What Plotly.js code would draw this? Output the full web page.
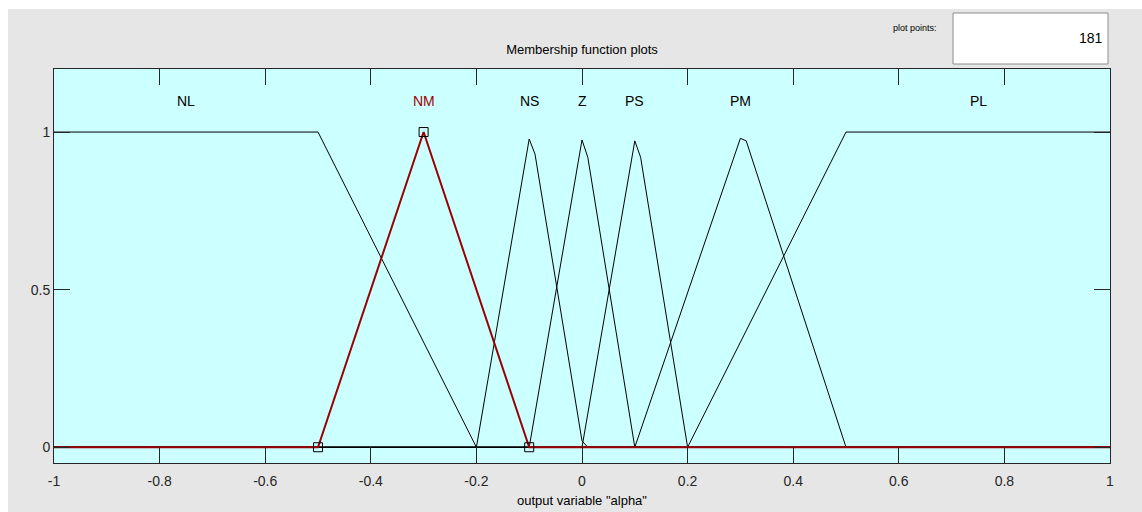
<!DOCTYPE html>
<html>
<head>
<meta charset="utf-8">
<script src="https://cdn.plot.ly/plotly-3.0.1.min.js"></script>
<style>
html,body{margin:0;padding:0;background:#fff;}
#chart{width:1142px;height:512px;}
</style>
</head>
<body>
<div id="chart"></div>
<script>
// ---- data ----
const mfNames = ['NL','NM','NS','Z','PS','PM','PL'];
const mfLabelX = [-0.75, -0.3, -0.1, 0, 0.1, 0.3, 0.75];
const mfLabelY = 1.1;

const NL_x = [-1, -0.5, -0.2, 1];
const NL_y = [1, 1, 0, 0];
const NM_x = [-1, -0.5, -0.3, -0.1, 1];
const NM_y = [0, 0, 1, 0, 0];
const NS_x = [-1, -0.2, -0.1, -0.089, 0, 0.011, 1];
const NS_y = [0, 0, 0.978, 0.93, 0.02, 0, 0];
const Z_x  = [-1, -0.1, 0, 0.011, 0.1, 1];
const Z_y  = [0, 0, 0.975, 0.92, 0, 0];
const PS_x = [-1, 0, 0.1, 0.111, 0.2, 1];
const PS_y = [0, 0, 0.972, 0.92, 0, 0];
const PM_x = [-1, 0.1, 0.3, 0.311, 0.5, 1];
const PM_y = [0, 0, 0.98, 0.972, 0, 0];
const PL_x = [-1, 0.2, 0.5, 1];
const PL_y = [0, 0, 1, 1];

const NM_params = [-0.5, -0.3, -0.1];
const NM_paramY = [0, 1, 0];

const xTicks = [-1, -0.8, -0.6, -0.4, -0.2, 0, 0.2, 0.4, 0.6, 0.8, 1];
const xTickText = ['-1','-0.8','-0.6','-0.4','-0.2','0','0.2','0.4','0.6','0.8','1'];
const yTicks = [0, 0.5, 1];
const yTickText = ['0','0.5','1'];

const plotPoints = '181';

// ---- chart ----
const FONT = 'Liberation Sans Narrow, Arial Narrow, Liberation Sans, Arial, sans-serif';
const W = 1142, H = 512;
const L = 54, R = 1110, T = 69, B = 463;
const px2x = p => (p - L) / (R - L);
const py2y = p => (B - p) / (B - T);

const black = '#000000';
const selRed = '#990000';

function mfTrace(x, y, name) {
  return {x: x, y: y, name: name, mode: 'lines', type: 'scatter',
          line: {color: black, width: 1}, hoverinfo: 'skip'};
}

const traces = [
  mfTrace(NL_x, NL_y, 'NL'),
  mfTrace(NS_x, NS_y, 'NS'),
  mfTrace(Z_x, Z_y, 'Z'),
  mfTrace(PS_x, PS_y, 'PS'),
  mfTrace(PM_x, PM_y, 'PM'),
  mfTrace(PL_x, PL_y, 'PL'),
  {x: NM_x, y: NM_y, name: 'NM', mode: 'lines', type: 'scatter',
   line: {color: selRed, width: 2}, hoverinfo: 'skip'},
  {x: NM_params, y: NM_paramY, mode: 'markers', type: 'scatter',
   marker: {symbol: 'square-open', size: 9, color: black, line: {width: 1, color: black}},
   hoverinfo: 'skip'}
];

const annotations = mfNames.map((n, i) => ({
  x: mfLabelX[i], y: mfLabelY, xref: 'x', yref: 'y', text: n, showarrow: false,
  font: {family: FONT, size: 14, color: n === 'NM' ? '#a00000' : '#000000'},
  xanchor: 'center', yanchor: 'middle'
}));
annotations.push({
  x: px2x(915), y: py2y(28), xref: 'paper', yref: 'paper', text: 'plot points:',
  showarrow: false, font: {family: FONT, size: 9, color: '#000'},
  xanchor: 'center', yanchor: 'middle'
});
annotations.push({
  x: px2x(1105), y: py2y(38), xref: 'paper', yref: 'paper', text: plotPoints,
  showarrow: false, font: {family: FONT, size: 14, color: '#000'},
  xanchor: 'right', yanchor: 'middle'
});

const shapes = [
  {type: 'rect', xref: 'paper', yref: 'paper', x0: px2x(0), x1: px2x(W), y0: py2y(9), y1: py2y(0),
   fillcolor: '#ffffff', line: {width: 0}},
  {type: 'rect', xref: 'paper', yref: 'paper', x0: px2x(0), x1: px2x(8), y0: py2y(H), y1: py2y(0),
   fillcolor: '#ffffff', line: {width: 0}},
  {type: 'rect', xref: 'paper', yref: 'paper', x0: px2x(953), x1: px2x(1108), y0: py2y(64), y1: py2y(13),
   fillcolor: '#ffffff', line: {width: 1, color: '#8c8c8c'}}
];

const axisCommon = {
  ticks: 'inside', ticklen: 16, tickwidth: 1, tickcolor: '#262626',
  showline: true, linecolor: '#262626', linewidth: 1, mirror: 'ticks',
  showgrid: false, zeroline: false, fixedrange: true,
  tickfont: {family: FONT, size: 14, color: '#262626'}
};

const layout = {
  width: W, height: H,
  margin: {l: L, r: W - R, t: T, b: H - B, pad: 0},
  paper_bgcolor: '#e6e6e6',
  plot_bgcolor: '#ccffff',
  showlegend: false,
  title: {text: 'Membership function plots', font: {family: FONT, size: 13, color: '#000'},
          x: 0.5, xref: 'paper', y: 1 - 49 / H, yref: 'container', yanchor: 'middle'},
  xaxis: Object.assign({}, axisCommon, {
    range: [-1, 1], tickvals: xTicks, ticktext: xTickText, ticklabelstandoff: 5,
    title: {text: 'output variable "alpha"', font: {family: FONT, size: 13, color: '#000'}, standoff: 8}
  }),
  yaxis: Object.assign({}, axisCommon, {
    range: [-0.05, 1.2], tickvals: yTicks, ticktext: yTickText
  }),
  annotations: annotations,
  shapes: shapes
};

Plotly.newPlot('chart', traces, layout, {displayModeBar: false, staticPlot: true});
</script>
</body>
</html>
